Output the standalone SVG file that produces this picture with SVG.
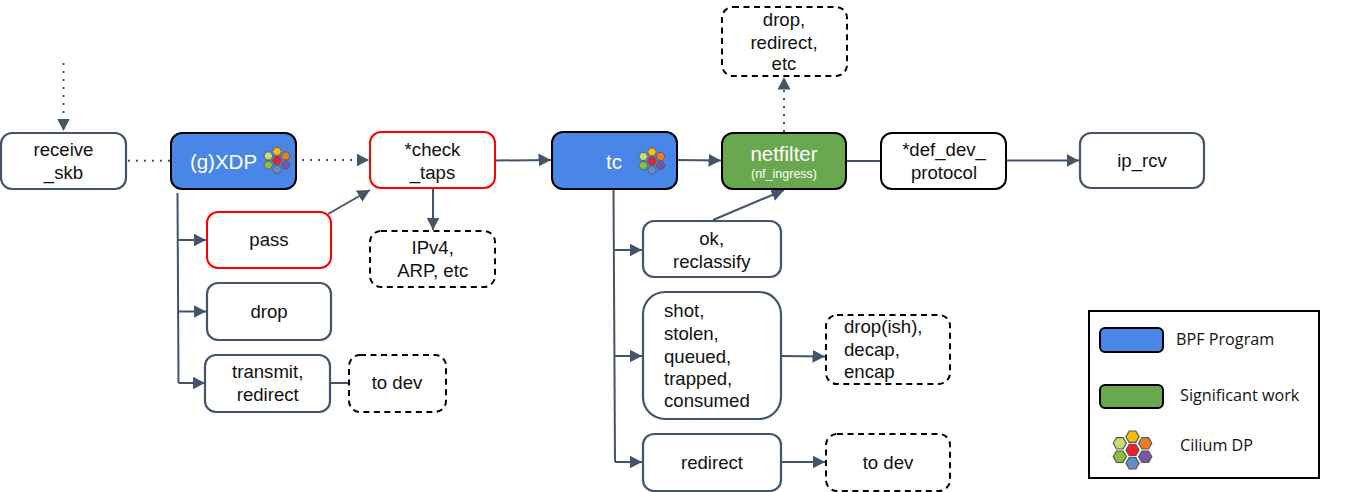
<svg xmlns="http://www.w3.org/2000/svg" xmlns:xlink="http://www.w3.org/1999/xlink" width="1349" height="492" viewBox="0 0 1349 492">
<style>
text{font-family:"Liberation Sans",Arial,sans-serif;font-size:18.6px;fill:#111;text-anchor:middle}
.s{text-anchor:start}
.n{fill:#fff;stroke:#44546a;stroke-width:2.2}
.r{fill:#fff;stroke:#f00;stroke-width:2}
.d{fill:#fff;stroke:#000;stroke-width:2;stroke-dasharray:6 4.5}
.k{fill:#fff;stroke:#000;stroke-width:2}
.b{fill:#4a86e8;stroke:#000;stroke-width:2}
.g{fill:#6aa84f;stroke:#000;stroke-width:2}
text.w{fill:#fff;font-size:20.500px}
.c{fill:none;stroke:#44546a;stroke-width:2}
.a{marker-end:url(#ah)}
.t{stroke-dasharray:2 6}
text.l{font-family:"Open Sans","Noto Sans",sans-serif;font-size:16.200px;text-anchor:start}
.h{stroke:#595959;stroke-width:1.2}
</style>
<defs>
<marker id="ah" markerUnits="userSpaceOnUse" markerWidth="14" markerHeight="14" refX="12.500" refY="7" orient="auto"><path d="M0 0.500L12.500 7L0 13.500Z" fill="#44546a"/></marker>
<path id="hx" d="M-6.6 0L-3.3-5.7H3.3L6.6 0L3.3 5.7H-3.3Z"/>
<g id="cil">
<use xlink:href="#hx" class="h" fill="#fbbc04" y="-13.3"/>
<use xlink:href="#hx" class="h" fill="#c5dc6e" x="-12.7" y="-6.7"/>
<use xlink:href="#hx" class="h" fill="#ee7d22" x="12.7" y="-6.7"/>
<use xlink:href="#hx" class="h" fill="#ee2026"/>
<use xlink:href="#hx" class="h" fill="#8ebf3c" x="-12.7" y="6.7"/>
<use xlink:href="#hx" class="h" fill="#7b55a4" x="12.7" y="6.7"/>
<use xlink:href="#hx" class="h" fill="#5f8fcf" y="13.3"/>
</g>
</defs>
<g id="connectors">
<path class="c t a" d="M63.500 63V131"/>
<path class="c t" d="M128 160.700H170"/>
<path class="c t a" d="M302 160H369"/>
<path class="c a" d="M496 160.500L551 160"/>
<path class="c a" d="M677 160L721 160.500"/>
<path class="c" d="M846 161H881"/>
<path class="c a" d="M1007 160.500H1079"/>
<path class="c t a" d="M784 132V77"/>
<path class="c" d="M177.500 193L178.500 383"/>
<path class="c a" d="M178 240H206"/>
<path class="c a" d="M178 311.500H206"/>
<path class="c a" d="M178.500 383H205"/>
<path class="c a" d="M328 214L370 190"/>
<path class="c a" d="M433 189V230"/>
<path class="c" d="M330 383H349"/>
<path class="c" d="M613.500 189L615 462"/>
<path class="c a" d="M614 250H642"/>
<path class="c a" d="M614 356H642"/>
<path class="c a" d="M615 462H642"/>
<path class="c a" d="M713 220L784 190"/>
<path class="c a" d="M781 356L825 356.500"/>
<path class="c a" d="M781 462H825"/>
</g>
<g id="receive_skb"><rect class="n" x="1" y="133" width="125" height="56" rx="11"/><text x="63.500" y="156">receive</text><text x="63.500" y="178.500">_skb</text></g>
<g id="xdp"><rect class="b" x="171" y="133" width="125" height="56" rx="11"/><text class="w" x="223.500" y="169">(g)XDP</text><use xlink:href="#cil" transform="translate(277 160.500) scale(.68)"/></g>
<g id="check_taps"><rect class="r" x="370" y="132" width="125" height="56" rx="11"/><text x="432.500" y="156">*check</text><text x="432.500" y="178.500">_taps</text></g>
<g id="tc"><rect class="b" x="552" y="132" width="125" height="57" rx="11"/><text class="w" x="614" y="168.500">tc</text><use xlink:href="#cil" transform="translate(652 161) scale(.68)"/></g>
<g id="netfilter"><rect class="g" x="722" y="133" width="124" height="56" rx="11"/><text class="w" x="784" y="161">netfilter</text><text x="784" y="178" style="fill:#fff;font-size:12.500px">(nf_ingress)</text></g>
<g id="def_dev_protocol"><rect class="k" x="881" y="133" width="125" height="56" rx="11"/><text x="944" y="156">*def_dev_</text><text x="944" y="179">protocol</text></g>
<g id="ip_rcv"><rect class="n" x="1080" y="133" width="124" height="55" rx="11"/><text x="1142" y="167">ip_rcv</text></g>
<g id="drop_redirect_etc"><rect class="d" x="722" y="7" width="125" height="69" rx="11"/><text x="784" y="26">drop,</text><text x="784" y="49">redirect,</text><text x="784" y="69.500">etc</text></g>
<g id="pass"><rect class="r" x="207" y="212" width="124" height="56" rx="11"/><text x="269" y="246">pass</text></g>
<g id="drop"><rect class="n" x="207" y="283" width="124" height="57" rx="11"/><text x="269" y="318">drop</text></g>
<g id="transmit_redirect"><rect class="n" x="205" y="355" width="125" height="57" rx="11"/><text x="267.700" y="378">transmit,</text><text x="267.700" y="400.500">redirect</text></g>
<g id="to_dev_1"><rect class="d" x="349" y="355" width="97" height="57" rx="11"/><text x="397" y="389">to dev</text></g>
<g id="ipv4_arp"><rect class="d" x="370" y="231" width="125" height="56" rx="11"/><text x="432.700" y="254">IPv4,</text><text x="432.700" y="277">ARP, etc</text></g>
<g id="ok_reclassify"><rect class="n" x="643" y="221" width="138" height="56" rx="11"/><text x="711.700" y="245">ok,</text><text x="711.700" y="268">reclassify</text></g>
<g id="shot_etc"><rect class="n" x="643" y="292" width="138" height="127" rx="22"/><text class="s" x="664" y="317">shot,</text><text class="s" x="664" y="340">stolen,</text><text class="s" x="664" y="362.500">queued,</text><text class="s" x="664" y="385">trapped,</text><text class="s" x="664" y="407">consumed</text></g>
<g id="redirect"><rect class="n" x="643" y="434" width="138" height="57" rx="11"/><text x="712" y="468.500">redirect</text></g>
<g id="drop_decap_encap"><rect class="d" x="826" y="315" width="124" height="69" rx="11"/><text class="s" x="844" y="333">drop(ish),</text><text class="s" x="844" y="356">decap,</text><text class="s" x="844" y="378">encap</text></g>
<g id="to_dev_2"><rect class="d" x="826" y="434" width="124" height="57" rx="11"/><text x="888" y="469">to dev</text></g>
<g id="legend"><rect x="1089" y="311" width="230" height="167" fill="#fff" stroke="#000" stroke-width="2"/>
<rect class="b" x="1100" y="328" width="63" height="24" rx="5"/><text class="l" x="1176" y="345">BPF Program</text>
<rect class="g" x="1100" y="385" width="63" height="23" rx="5"/><text class="l" x="1180" y="401">Significant work</text>
<use xlink:href="#cil" transform="translate(1132.500 450)"/><text class="l" x="1180" y="451">Cilium DP</text></g>
</svg>
